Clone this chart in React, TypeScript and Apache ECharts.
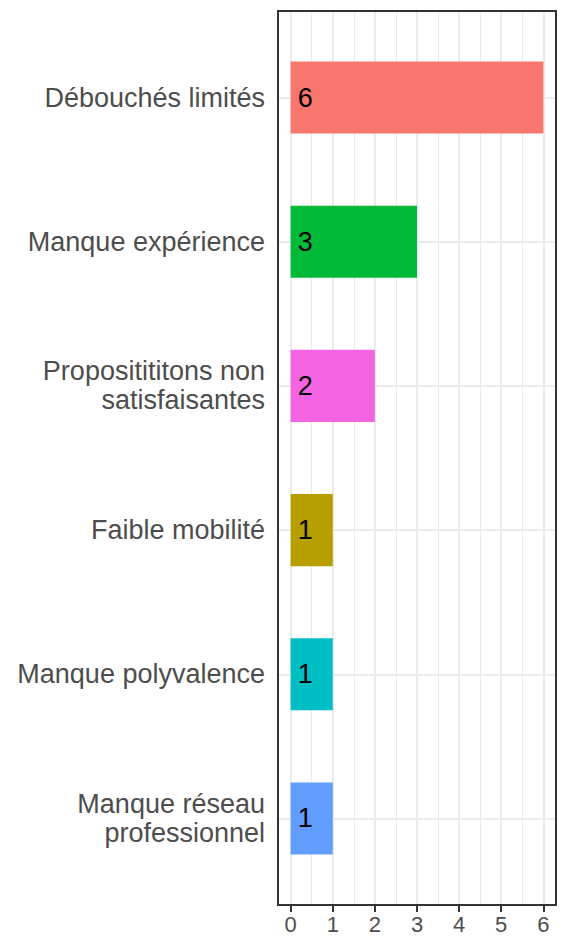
import React, { useEffect, useRef } from 'react';
import * as echarts from 'echarts';

const categories = [
  'Débouchés limités',
  'Manque expérience',
  'Propositititons non\nsatisfaisantes',
  'Faible mobilité',
  'Manque polyvalence',
  'Manque réseau\nprofessionnel',
];
const counts = [6, 3, 2, 1, 1, 1];
const barColors = ['#F8766D', '#00BA38', '#F564E3', '#B79F00', '#00BFC4', '#619CFF'];
const xMin = 0;
const xMax = 6;
const xTickStep = 1;

// layout
const W = 562;
const H = 940;
const panelLeft = 278;
const panelTop = 11;
const panelRight = 556;
const panelBottom = 905;
const xExpand = 0.3;
const yExpand = 0.6;

export default function App() {
  const ref = useRef<HTMLDivElement>(null);
  useEffect(() => {
    if (!ref.current) return;
    const chart = echarts.init(ref.current, undefined, { renderer: 'svg' });
    const panelW = panelRight - panelLeft;
    const panelH = panelBottom - panelTop;
    const unit = panelW / (xMax - xMin + 2 * xExpand);
    const n = categories.length;
    const step = panelH / (n - 1 + 2 * yExpand);
    const bandPad = yExpand * step - step / 2;
    const font = 'Liberation Sans, Arial, sans-serif';

    chart.setOption({
      animation: false,
      grid: [
        {
          left: panelLeft + xExpand * unit,
          right: W - panelRight + xExpand * unit,
          top: panelTop,
          bottom: H - panelBottom,
        },
        {
          left: panelLeft,
          right: W - panelRight,
          top: panelTop + bandPad,
          bottom: H - panelBottom + bandPad,
        },
      ],
      xAxis: [
        {
          gridIndex: 0,
          type: 'value',
          min: xMin,
          max: xMax,
          interval: xTickStep,
          axisLine: { show: false },
          axisTick: { show: true, length: 7, lineStyle: { color: '#333333', width: 2 } },
          axisLabel: { color: '#4D4D4D', fontSize: 22, margin: 8, fontFamily: font },
          splitLine: { show: true, lineStyle: { color: '#EBEBEB', width: 2 } },
          minorTick: { show: false, splitNumber: 2 },
          minorSplitLine: { show: true, lineStyle: { color: '#EBEBEB', width: 1 } },
        },
        {
          gridIndex: 1,
          type: 'value',
          min: xMin - xExpand,
          max: xMax + xExpand,
          show: false,
        },
      ],
      yAxis: [
        { gridIndex: 0, type: 'value', min: 0, max: 1, show: false },
        {
          gridIndex: 1,
          type: 'category',
          data: categories,
          inverse: true,
          axisLine: { show: false },
          axisTick: { show: true, alignWithLabel: true, length: 7, lineStyle: { color: '#333333', width: 2 } },
          axisLabel: {
            color: '#4D4D4D',
            fontSize: 27,
            lineHeight: 29,
            margin: 13,
            fontFamily: font,
          },
          splitLine: { show: false },
        },
      ],
      series: [
        {
          type: 'bar',
          xAxisIndex: 1,
          yAxisIndex: 1,
          barWidth: '50%',
          data: counts.map((v, i) => ({ value: v, itemStyle: { color: barColors[i] } })),
          label: {
            show: true,
            position: 'insideLeft',
            distance: 7,
            color: '#000000',
            fontSize: 27,
            fontFamily: font,
          },
          emphasis: { disabled: true },
          markLine: {
            silent: true,
            z: 1,
            symbol: ['none', 'none'],
            label: { show: false },
            lineStyle: { color: '#EBEBEB', width: 2, type: 'solid' },
            data: categories.map((c) => ({ yAxis: c })),
          },
        },
      ],
      graphic: [
        {
          type: 'rect',
          z: 100,
          silent: true,
          shape: { x: panelLeft, y: panelTop, width: panelW, height: panelH },
          style: { fill: 'none', stroke: '#333333', lineWidth: 2 },
        },
      ],
    });
    return () => chart.dispose();
  }, []);
  return (
    <div
      ref={ref}
      style={{ position: 'fixed', left: 0, top: 0, width: W, height: H, background: '#ffffff' }}
    />
  );
}
